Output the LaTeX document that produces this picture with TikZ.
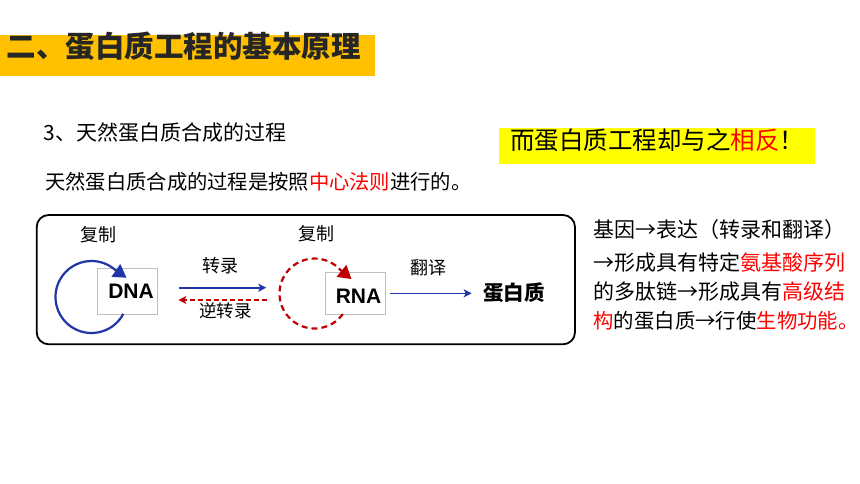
\documentclass[tikz,border=0pt]{standalone}
\usepackage{fontspec}
\setmainfont{Noto Sans CJK SC}
\newfontfamily\latinb{Liberation Sans}
\usetikzlibrary{arrows.meta}
\definecolor{barorange}{HTML}{FFC000}
\definecolor{hlyellow}{HTML}{FFFF00}
\definecolor{dblue}{HTML}{1F35A8}
\definecolor{dred}{HTML}{C00000}
\definecolor{txtred}{HTML}{FF0000}
\definecolor{titlegray}{HTML}{262626}
\definecolor{boxgray}{HTML}{BFBFBF}
\newcommand{\fsz}[1]{\fontsize{#1pt}{#1pt}\selectfont}
\begin{document}
\begin{tikzpicture}[x=1pt,y=-1pt,
  cjkline/.style={inner sep=0pt,anchor=west,text height=0.88em,text depth=0.12em},
  titletext/.style={cjkline,font=\fsz{29.5}\bfseries,text=titlegray},
  subtext/.style={cjkline,font=\fsz{20.5}},
  rline/.style={cjkline,font=\fsz{21}},
  lbl/.style={inner sep=0pt,text height=0.88em,text depth=0.12em,font=\fsz{18}},
  hlbox/.style={fill=hlyellow,inner sep=0pt,minimum width=315.7pt,minimum height=36.6pt,text height=0.88em,text depth=0.12em,font=\fsz{24.5}},
  mainframe/.style={draw=black,line width=1.8pt,rounded corners=12pt,minimum width=538.3pt,minimum height=129.3pt,inner sep=0pt},
  nabox/.style={draw=boxgray,line width=0.8pt,fill=white,inner sep=0pt,minimum width=60pt},
  natext/.style={inner sep=0pt,font=\latinb\fsz{21}\bfseries},
  bluearrow/.style={draw=dblue,line width=1.6pt,-{Stealth[length=8pt,width=8pt,inset=2pt]}},
  redarrow/.style={draw=dred,line width=1.8pt,dash pattern=on 5pt off 3pt,-{Stealth[length=8pt,width=8pt,inset=2pt]}},
  dnaloop/.style={draw=dblue,line width=2.2pt,-{Triangle[length=13pt,width=15pt]}},
  rnaloop/.style={draw=dred,line width=2.2pt,dash pattern=on 6pt off 4pt,-{Triangle[length=13pt,width=15pt]}}
]
\useasboundingbox (0,0) rectangle (860,484);
\fill[white] (0,0) rectangle (860,484);

% title bar
\node[fill=barorange,inner sep=0pt,minimum width=375pt,minimum height=40.5pt] (bar) at (187.5,55.3) {};
\node[titletext] (title) at (6.7,54) {二、蛋白质工程的基本原理};

% sub headings
\node[subtext,font=\fsz{21}] (sub1) at (43.3,136.5) {3、天然蛋白质合成的过程};
\node[subtext,font=\fsz{20.3}] (sub2) at (45,186) {天然蛋白质合成的过程是按照\textcolor{txtred}{中心法则}进行的。};

% highlighted box
\node[hlbox] (hl) at (657,146) {而蛋白质工程却与之\textcolor{txtred}{相反}！};

% main frame
\node[mainframe] (frame) at (305.85,279.65) {};

% boxes
\node[nabox,minimum height=46pt] (dnabox) at (127,291.5) {};
\node[nabox,minimum height=42.5pt] (rnabox) at (355,293.5) {};

% loops
\coordinate (dnac) at (91.5,297);
\coordinate (rnac) at (314.5,293.5);
\draw[dnaloop] ([shift={(28:36)}]dnac) arc[start angle=28,end angle=312,radius=36] -- ++(11,7.5);
\draw[rnaloop] ([shift={(36:35)}]rnac) arc[start angle=36,end angle=318,radius=35] -- ++(11,9);

% box texts
\node[natext] (dna) at (131,291.5) {DNA};
\node[natext] (rna) at (358.5,296.5) {RNA};
\node[inner sep=0pt,font=\fsz{20.5}\bfseries] (prot) at (514.2,292.5) {蛋白质};

% labels
\node[lbl] (rep1) at (98,237.5) {复制};
\node[lbl] (rep2) at (316.5,237) {复制};
\node[lbl] (tr) at (220,269) {转录};
\node[lbl,font=\fsz{17.5}] (rtr) at (225.5,313.3) {逆转录};
\node[lbl] (tl) at (428.3,270.5) {翻译};

% connectors
\draw[bluearrow] ([shift={(21.3,-3.8)}]dnabox.east) -- ([shift={(-58.3,-5.8)}]rnabox.west);
\draw[redarrow] ([shift={(-58,6.5)}]rnabox.west) -- ([shift={(21,8.5)}]dnabox.east);
\draw[bluearrow] ([xshift=5pt,yshift=0.2pt]rnabox.east) -- ([xshift=-11.6pt,yshift=-0.8pt]prot.west);

% right text
\node[rline] (r1) at (593.3,234) {基因→表达（转录和翻译）};
\node[rline] (r2) at (593.3,266.7) {→形成具有特定\textcolor{txtred}{氨基酸序列}};
\node[rline] (r3) at (593.3,295.5) {的多肽链→形成具有\textcolor{txtred}{高级结}};
\node[rline,font=\fsz{20.4}] (r4) at (593.3,324.3) {\textcolor{txtred}{构}的蛋白质→行使\textcolor{txtred}{生物功能。}};
\end{tikzpicture}
\end{document}
